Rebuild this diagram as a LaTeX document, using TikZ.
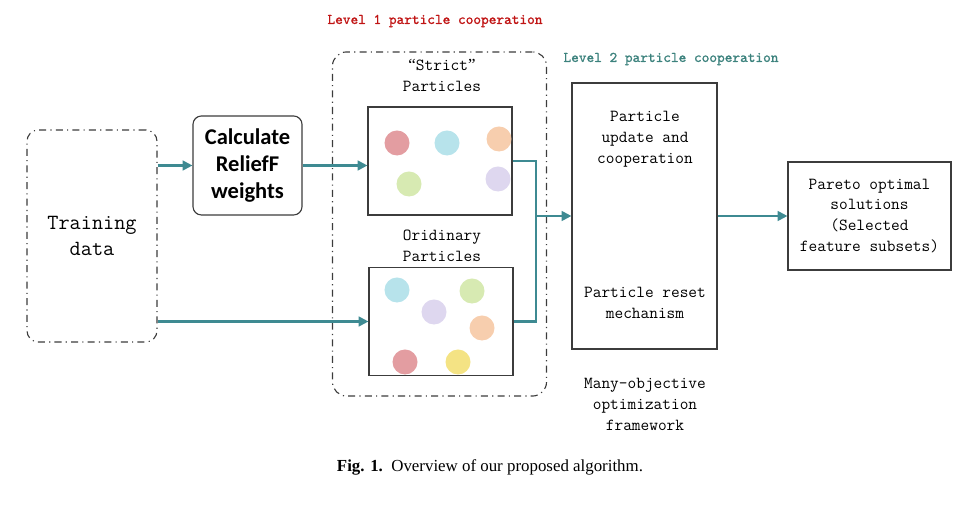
\documentclass[tikz,border=0pt]{standalone}
\usepackage{fontspec}
\setmainfont{Liberation Serif}
\newfontfamily\calibfont{Carlito}
\newfontfamily\lvlfont[FakeBold=1.2]{Latin Modern Mono}
\usepackage{tikz}
\usetikzlibrary{arrows.meta}
\usetikzlibrary{positioning}
\usetikzlibrary{calc}
\definecolor{flowteal}{RGB}{62,138,146}
\definecolor{lvlred}{RGB}{192,20,20}
\definecolor{lvlteal}{RGB}{60,130,125}
\definecolor{edge}{RGB}{60,60,60}
\definecolor{pred}{RGB}{222,140,145}
\definecolor{pcyan}{RGB}{170,222,232}
\definecolor{porange}{RGB}{246,198,160}
\definecolor{pgreen}{RGB}{208,230,165}
\definecolor{plav}{RGB}{216,208,236}
\definecolor{pyellow}{RGB}{242,222,110}
\tikzstyle{dashdot}=[
        draw=edge,
        line width=0.8pt,
        dash pattern=on 5pt off 3pt on 0.8pt off 3pt,
        rounded corners=8pt
]
\tikzstyle{data}=[dashdot,minimum width=3.25cm,minimum height=5.3cm,align=center,
        font=\ttfamily\fontsize{15.4}{18.5}\selectfont]
\tikzstyle{relief}=[rectangle,draw=edge,line width=0.8pt,rounded corners=6pt,
        minimum width=2.725cm,minimum height=2.475cm,align=center,
        font=\calibfont\bfseries\fontsize{16}{19.2}\selectfont]
\tikzstyle{swarm}=[rectangle,draw=edge,line width=0.8pt,minimum width=3.6cm,minimum height=2.7cm]
\tikzstyle{frame}=[rectangle,draw=edge,line width=0.8pt,inner sep=0pt]
\tikzstyle{txt}=[align=center,font=\ttfamily\fontsize{12}{14.9}\selectfont]
\tikzstyle{lvl}=[font=\lvlfont\fontsize{10.4}{12}\selectfont]
\tikzstyle{particle}=[circle,inner sep=0pt,minimum size=0.625cm,opacity=0.85]
\tikzstyle{suite}=[-{Triangle[length=7pt,width=7pt]},draw=flowteal,line width=1.5pt]
\tikzstyle{joint}=[draw=flowteal,line width=1.5pt]

\begin{document}
\begin{tikzpicture}[x=0.025cm,y=-0.025cm]
\useasboundingbox (0,0) rectangle (969,511);
\node[data] (train) at (92,236) {Training\\data};
\node[relief] (calc) at (247.5,165.5) {Calculate\\ReliefF\\weights};
\node[dashdot,minimum width=5.35cm,minimum height=8.6cm,rounded corners=10pt] (level1) at (439.5,224) {};
\node[lvl,text=lvlred] (level1lab) at (435,21) {Level 1 particle cooperation};
\node[txt] (strictlab) at (442,75.5) {{\rmfamily“}Strict{\rmfamily”}\\Particles};
\node[swarm] (strict) at (440,161) {};
\node[txt] (ordlab) at (442,246) {Oridinary\\Particles};
\node[swarm] (ordinary) at (441,321.5) {};
%Particules
\node[particle,fill=pred] (s1) at (397,143) {};
\node[particle,fill=pcyan] (s2) at (447,143) {};
\node[particle,fill=porange] (s3) at (499,139) {};
\node[particle,fill=pgreen] (s4) at (409,184) {};
\node[particle,fill=plav] (s5) at (498,179) {};
\node[particle,fill=pcyan] (o1) at (397,290) {};
\node[particle,fill=plav] (o2) at (434,312) {};
\node[particle,fill=pgreen] (o3) at (472,291) {};
\node[particle,fill=porange] (o4) at (482,328) {};
\node[particle,fill=pred] (o5) at (405,362) {};
\node[particle,fill=pyellow] (o6) at (458,362) {};
\node[frame,minimum width=3.625cm,minimum height=6.65cm] (level2) at (644.5,216) {};
\node[lvl,text=lvlteal] (level2lab) at (671,59) {Level 2 particle cooperation};
\node[txt] (update) at (645,139) {Particle\\update and\\cooperation};
\node[txt] (reset) at (645,302.5) {Particle reset\\mechanism};
\node[txt] (moo) at (645,404.5) {Many-objective\\optimization\\framework};
\node[frame,minimum width=4.075cm,minimum height=2.7cm,txt] (pareto) at (869.5,216) {Pareto optimal\\solutions\\(Selected\\feature subsets)};
\coordinate (join) at (536,216);
\node[font=\fontsize{12}{14}\selectfont] (caption) at (490,467) {\textbf{Fig. 1.}\ \ Overview of our proposed algorithm.};
%Placementdesflèches
\draw[suite] (train.east |- calc.west) -- (calc.west);
\draw[suite] (calc.east) -- (calc.east -| strict.west);
\draw[suite] (train.east |- ordinary.west) -- (ordinary.west);
\draw[joint] (strict.east) -| (join);
\draw[joint] (ordinary.east) -| (join);
\draw[suite] (join) -- (level2.west);
\draw[suite] (level2.east) -- (pareto.west);
\end{tikzpicture}
\end{document}
